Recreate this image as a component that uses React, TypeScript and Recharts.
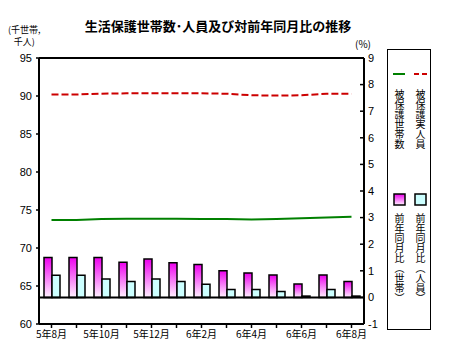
import React from 'react';
import { ComposedChart, Bar, Line, XAxis, YAxis, ReferenceLine } from 'recharts';

const MONTHS = ['5年8月', '5年9月', '5年10月', '5年11月', '5年12月', '6年1月', '6年2月', '6年3月', '6年4月', '6年5月', '6年6月', '6年7月', '6年8月'];
const HOUSEHOLDS = [73.7, 73.7, 73.8, 73.85, 73.85, 73.85, 73.8, 73.8, 73.75, 73.8, 73.9, 74.0, 74.1];
const PERSONS = [90.2, 90.2, 90.3, 90.35, 90.35, 90.35, 90.35, 90.3, 90.1, 90.05, 90.1, 90.3, 90.3];
const YOY_HOUSEHOLDS = [1.5, 1.5, 1.5, 1.32, 1.44, 1.3, 1.24, 1.0, 0.92, 0.84, 0.5, 0.84, 0.6];
const YOY_PERSONS = [0.83, 0.83, 0.69, 0.6, 0.69, 0.6, 0.49, 0.3, 0.3, 0.22, 0.05, 0.3, 0.05];
const LEFT_TICKS = [60, 65, 70, 75, 80, 85, 90, 95];
const RIGHT_TICKS = [-1, 0, 1, 2, 3, 4, 5, 6, 7, 8, 9];

const FONT = '"Liberation Sans", Arial, "Noto Sans CJK JP", sans-serif';
const JP = '"Noto Sans CJK JP", sans-serif';

const data = MONTHS.map((m, i) => ({
  m,
  hh: HOUSEHOLDS[i],
  pp: PERSONS[i],
  yh: YOY_HOUSEHOLDS[i],
  yp: YOY_PERSONS[i],
}));

const RightTick = (props: any) => {
  const { x, y, payload } = props;
  return (
    <g>
      <line x1={x - 8} x2={x - 4} y1={y} y2={y} stroke="#000" strokeWidth={1.5} />
      <text x={x} y={y} dy="0.35em" textAnchor="start" fontSize={11} fill="#000" fontFamily={FONT}>
        {payload.value}
      </text>
    </g>
  );
};

const vText: React.CSSProperties = {
  position: 'absolute',
  writingMode: 'vertical-rl',
  fontSize: 10,
  lineHeight: '10px',
  fontFamily: JP,
  color: '#000',
  letterSpacing: 0,
};

export default function App() {
  return (
    <div style={{ position: 'absolute', left: 0, top: 0, width: 469, height: 361, background: '#fff', fontFamily: FONT }}>
      <div style={{ position: 'absolute', left: 0, width: 436, top: 16, textAlign: 'center', fontFamily: JP, fontWeight: 'bold', fontSize: 13 }}>
        生活保護世帯数･人員及び対前年同月比の推移
      </div>
      <div style={{ position: 'absolute', left: 8, top: 24, fontFamily: JP, fontSize: 9, lineHeight: '12px', textAlign: 'center' }}>
        (千世帯,<br />千人)
      </div>
      <div style={{ position: 'absolute', left: 355, top: 36, fontFamily: JP, fontSize: 10 }}>(%)</div>

      <ComposedChart width={469} height={361} data={data} margin={{ top: 58, right: 75, bottom: 7, left: 0 }} barGap={0}>
        <defs>
          <linearGradient id="mag" x1="0" y1="0" x2="0" y2="1">
            <stop offset="0%" stopColor="#EE00EE" />
            <stop offset="100%" stopColor="#FFF2FF" />
          </linearGradient>
        </defs>
        <XAxis
          dataKey="m"
          xAxisId="x"
          interval={0}
          height={30}
          tickSize={4}
          tickMargin={3}
          axisLine={{ stroke: '#000', strokeWidth: 2 }}
          tickLine={{ stroke: '#000', strokeWidth: 1.5 }}
          tick={{ fontSize: 10, fill: '#000', fontFamily: JP }}
          tickFormatter={(v: string, i: number) => (i % 2 === 0 ? v : '')}
        />
        <YAxis
          yAxisId="l"
          domain={[60, 95]}
          ticks={LEFT_TICKS}
          width={39}
          tickSize={3}
          tickMargin={4}
          axisLine={{ stroke: '#000', strokeWidth: 2 }}
          tickLine={{ stroke: '#000', strokeWidth: 1.5 }}
          tick={{ fontSize: 11, fill: '#000', fontFamily: FONT }}
        />
        <YAxis
          yAxisId="r"
          orientation="right"
          domain={[-1, 9]}
          ticks={RIGHT_TICKS}
          width={30}
          tickSize={0}
          tickMargin={4}
          axisLine={{ stroke: '#000', strokeWidth: 2 }}
          tickLine={false}
          tick={<RightTick />}
        />
        <ReferenceLine yAxisId="l" xAxisId="x" y={95} stroke="#000" strokeWidth={2} />
        <Bar xAxisId="x" yAxisId="r" dataKey="yh" barSize={8} fill="url(#mag)" stroke="#000" strokeWidth={1.5} isAnimationActive={false} />
        <Bar xAxisId="x" yAxisId="r" dataKey="yp" barSize={8} fill="#CCFFFF" stroke="#000" strokeWidth={1.5} isAnimationActive={false} />
        <ReferenceLine yAxisId="r" xAxisId="x" y={0} stroke="#000" strokeWidth={2} />
        <Line xAxisId="x" yAxisId="l" dataKey="hh" stroke="#008000" strokeWidth={2} dot={false} isAnimationActive={false} />
        <Line xAxisId="x" yAxisId="l" dataKey="pp" stroke="#CC0000" strokeWidth={2} strokeDasharray="7 3" dot={false} isAnimationActive={false} />
      </ComposedChart>

      <div style={{ position: 'absolute', left: 387, top: 49, width: 44, height: 281, border: '1px solid #000', boxSizing: 'border-box' }}>
        <svg width={44} height={160} style={{ position: 'absolute', left: 0, top: 0 }}>
          <defs>
            <linearGradient id="magL" x1="0" y1="0" x2="0" y2="1">
              <stop offset="0%" stopColor="#EE00EE" />
              <stop offset="100%" stopColor="#FFF2FF" />
            </linearGradient>
          </defs>
          <line x1={5} x2={17} y1={24} y2={24} stroke="#008000" strokeWidth={2} />
          <line x1={26} x2={41} y1={24} y2={24} stroke="#CC0000" strokeWidth={2} strokeDasharray="5 3" />
          <rect x={6} y={144} width={11} height={11} fill="url(#magL)" stroke="#000" strokeWidth={1.5} />
          <rect x={27} y={144} width={11} height={11} fill="#CCFFFF" stroke="#000" strokeWidth={1.5} />
        </svg>
        <div style={{ ...vText, left: 6, top: 39 }}>被保護世帯数</div>
        <div style={{ ...vText, left: 27, top: 39 }}>被保護実人員</div>
        <div style={{ ...vText, left: 6, top: 163 }}>前年同月比（世帯）</div>
        <div style={{ ...vText, left: 27, top: 163 }}>前年同月比（人員）</div>
      </div>
    </div>
  );
}
